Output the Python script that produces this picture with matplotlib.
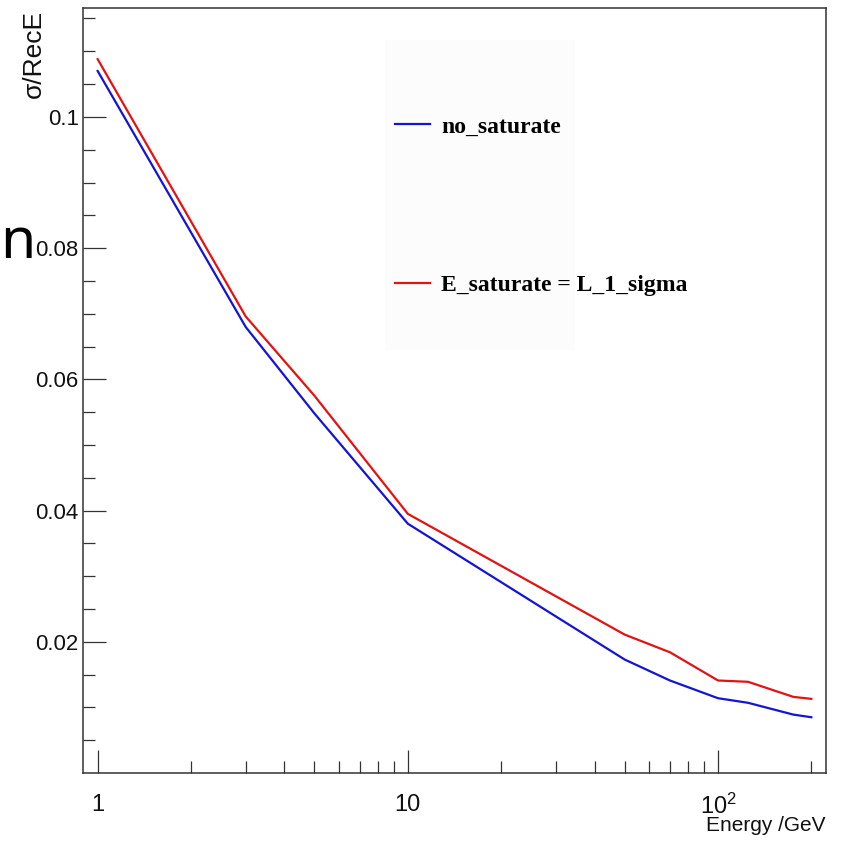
import matplotlib
matplotlib.use('Agg')
import matplotlib.pyplot as plt
from matplotlib.ticker import FixedLocator, FixedFormatter
from matplotlib.patches import Rectangle

# energy points and resolution curves (sigma / RecE)
energia = [1, 3, 5, 10, 50, 70, 100, 125, 175, 200]
no_saturate = [0.1070, 0.0680, 0.0548, 0.0380, 0.0173, 0.0141, 0.0114, 0.0107, 0.0089, 0.0085]
e_saturate = [0.1088, 0.0696, 0.0575, 0.0395, 0.0211, 0.0184, 0.0141, 0.0139, 0.0116, 0.0113]
nomes = ['no_saturate', 'E_saturate = L_1_sigma']
x_ticks = [1, 10, 100]
x_labels = ['1', '10', r'$10^{2}$']
y_ticks = [0.02, 0.04, 0.06, 0.08, 0.1]
y_labels = ['0.02', '0.04', '0.06', '0.08', '0.1']

plt.rcParams['font.family'] = ['Liberation Sans', 'DejaVu Sans']
plt.rcParams['mathtext.fontset'] = 'custom'
plt.rcParams['mathtext.rm'] = 'Liberation Sans'
plt.rcParams['mathtext.it'] = 'Liberation Sans'

W, H = 841, 844
fig = plt.figure(figsize=(W / 100, H / 100), dpi=100)
ax = fig.add_axes([83 / W, 1 - 773 / H, (826 - 83) / W, (773 - 8) / H])

# fundo da legenda (quase branco, como no ROOT)
ax.add_patch(Rectangle((385 / W, 1 - 350 / H), 190 / W, 310 / H,
                       transform=fig.transFigure, facecolor='#fcfcfc',
                       edgecolor='none', zorder=0.5, clip_on=False))

ax.plot(energia, no_saturate, color='#1414d2', lw=1.6, label=nomes[0])
ax.plot(energia, e_saturate, color='#e01414', lw=1.6, label=nomes[1])

ax.set_xscale('log')
ax.set_xlim(0.897, 223)
ax.set_ylim(0, 0.1166)

ax.xaxis.set_major_locator(FixedLocator(x_ticks))
ax.xaxis.set_major_formatter(FixedFormatter(x_labels))
ax.xaxis.set_minor_locator(FixedLocator([2, 3, 4, 5, 6, 7, 8, 9, 20, 30, 40, 50, 60, 70, 80, 90, 200]))
ax.xaxis.set_minor_formatter(FixedFormatter([''] * 17))
ax.yaxis.set_major_locator(FixedLocator(y_ticks))
ax.yaxis.set_major_formatter(FixedFormatter(y_labels))
ax.yaxis.set_minor_locator(FixedLocator([0.005 * i for i in range(1, 24) if i % 4 != 0]))

ax.tick_params(which='both', direction='in', color='#333333', width=0.9,
               top=False, right=False, labelcolor='#111111')
ax.tick_params(which='major', length=16.5)
ax.tick_params(which='minor', length=8.5)
ax.tick_params(axis='x', which='major', pad=15, labelsize=17)
ax.tick_params(axis='y', which='major', pad=3, labelsize=16)
for s in ax.spines.values():
    s.set_color('#333333')
    s.set_linewidth(1.1)

fig.text(34 / W, 1 - 10 / H, 'σ/RecE', rotation=90, ha='center', va='top', fontsize=19,
         color='#111111')
fig.text(826 / W, 1 - 831 / H, 'Energy /GeV', ha='right', va='baseline', fontsize=15,
         color='#111111')
fig.text(0, 1 - 258 / H, 'n', ha='left', va='baseline', fontsize=41,
         family=['Noto Sans', 'DejaVu Sans'], color='black')

leg = ax.legend(loc='center left', bbox_to_anchor=(395 / W, 1 - 206 / H),
                bbox_transform=fig.transFigure, frameon=False, borderpad=0,
                borderaxespad=0, handlelength=1.5, handletextpad=0.45,
                labelspacing=5.8,
                prop={'family': 'Liberation Serif', 'weight': 'bold', 'size': 17})

fig.savefig('out.png', dpi=100, facecolor='white')
